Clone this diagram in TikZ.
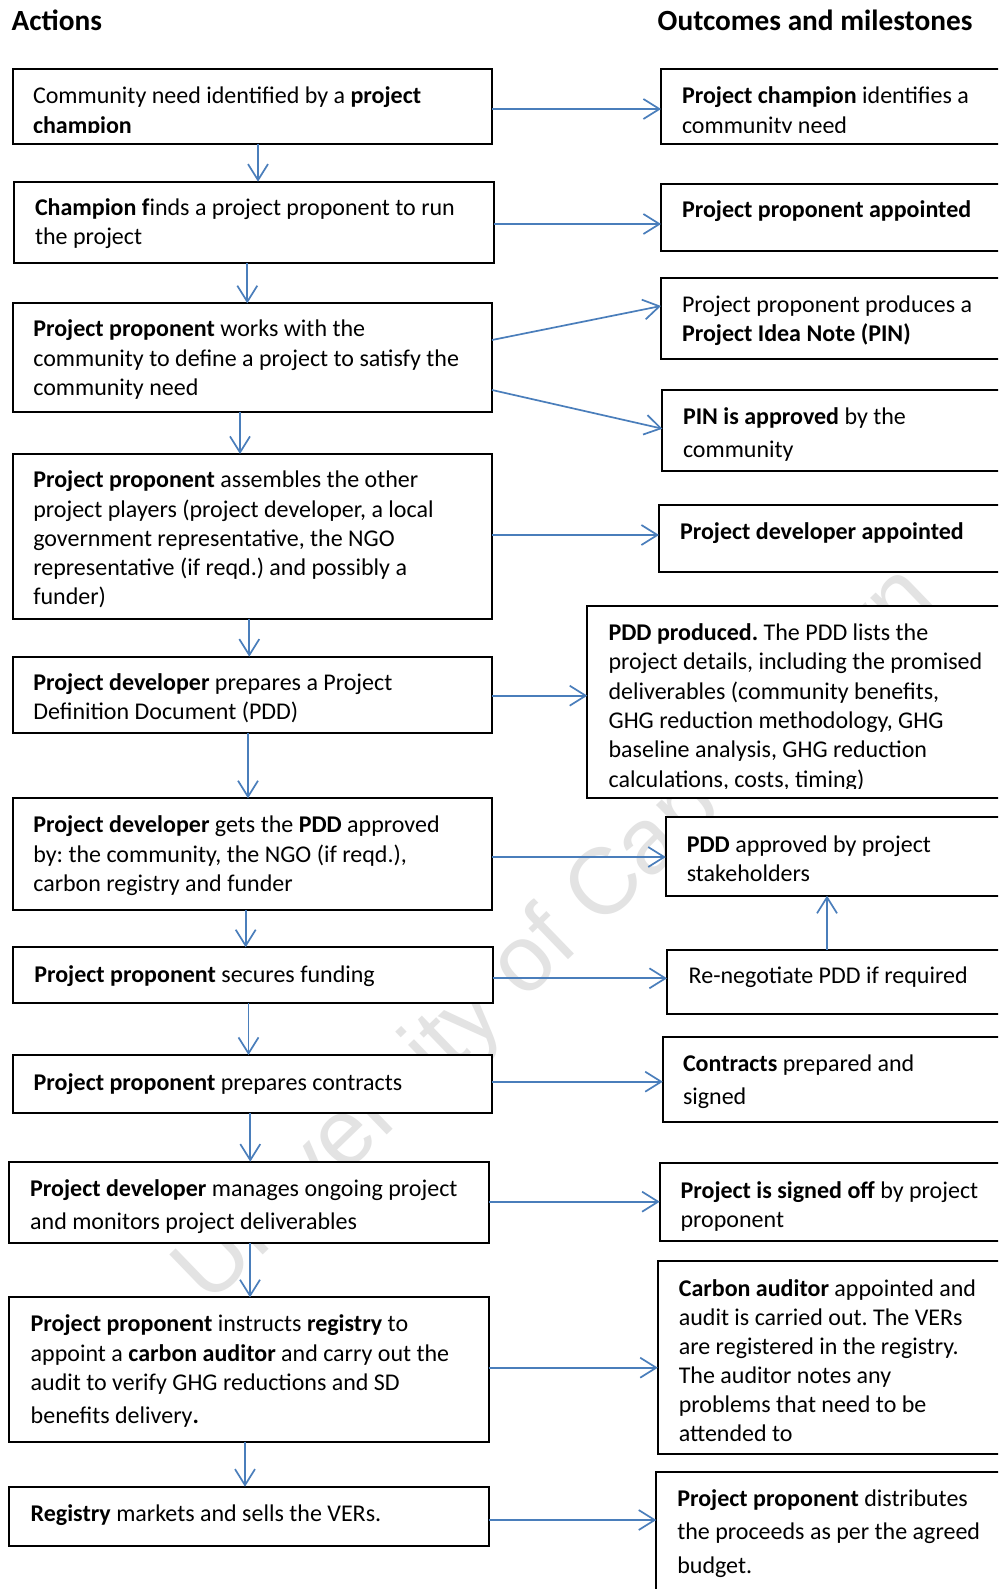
\documentclass[tikz,border=0pt]{standalone}
\usepackage{fontspec}
\setmainfont{Carlito}
\newfontfamily\headfont{Carlito}
\newfontfamily\wmfont{Liberation Sans}
\usetikzlibrary{arrows.meta}
\definecolor{arrblue}{RGB}{74,126,187}
\frenchspacing
\tikzset{
  box/.style={draw=black, line width=2pt, fill=white, inner sep=0pt, outer sep=0pt, anchor=north west},
  txt/.style={anchor=base west, inner sep=0pt, outer sep=0pt, text width=455pt, align=flush left, yshift=-1.2pt, font=\fontsize{24pt}{29.3pt}\selectfont},
  txtw/.style={txt, font=\fontsize{24pt}{33.4pt}\selectfont},
  rtxt/.style={txt, text width=318pt},
  rtxtw/.style={txtw, text width=318pt},
  head/.style={anchor=base west, inner sep=0pt, yshift=-1pt, font=\headfont\bfseries\fontsize{29.3pt}{35pt}\selectfont},
  arr/.style={draw=arrblue, line width=1.7pt, -{Straight Barb[length=16pt,width=20pt]}}
}
\newcommand\harr[3]{\coordinate (tmp) at ([yshift=#3]#1.east); \draw[arr] (tmp) -- (tmp -| #2.west);}
\newcommand\varr[3]{\coordinate (tmp) at ([xshift=#3]#1.south); \draw[arr] (tmp) -- (tmp |- #2.north);}
\begin{document}
\begin{tikzpicture}[x=1pt,y=-1pt]
\useasboundingbox (0,0) rectangle (998,1589);
\clip (0,0) rectangle (998,1589);
\fill[white] (0,0) rectangle (998,1589);
% watermark
\node[text=black!11, font=\wmfont\fontsize{94pt}{94pt}\selectfont, rotate=44, inner sep=0pt] (wm) at (557,937) {University of Cape Town};
% headings
\node[head] (hA) at (11.5,29.3) {Actions};
\node[head] (hO) at (657.5,29.3) {Outcomes and milestones};
% left boxes
\node[box, minimum width=479.3pt, minimum height=74.4pt] (L1) at (12.7,69.3) {};
\node[box, minimum width=480pt, minimum height=81.3pt] (L2) at (14,181.7) {};
\node[box, minimum width=479.3pt, minimum height=108.4pt] (L3) at (12.7,303.3) {};
\node[box, minimum width=479.3pt, minimum height=164.7pt] (L4) at (12.7,454) {};
\node[box, minimum width=479.3pt, minimum height=76pt] (L5) at (12.7,656.7) {};
\node[box, minimum width=479.3pt, minimum height=111.7pt] (L6) at (12.7,798.3) {};
\node[box, minimum width=479.4pt, minimum height=56pt] (L7) at (13.3,947.3) {};
\node[box, minimum width=479.2pt, minimum height=57.7pt] (L8) at (12.6,1055) {};
\node[box, minimum width=480.2pt, minimum height=81.6pt] (L9) at (8.8,1161.7) {};
\node[box, minimum width=479.4pt, minimum height=144.4pt] (L10) at (9.3,1297.3) {};
\node[box, minimum width=479.4pt, minimum height=59.3pt] (L11) at (9.3,1486.7) {};
% right boxes
\node[box, minimum width=351pt, minimum height=74.4pt] (R1) at (661,69.3) {};
\node[box, minimum width=351pt, minimum height=67pt] (R2) at (661,183.7) {};
\node[box, minimum width=351pt, minimum height=80.7pt] (R3) at (661,278.3) {};
\node[box, minimum width=349.6pt, minimum height=81.3pt] (R4) at (662.4,390) {};
\node[box, minimum width=353pt, minimum height=66.4pt] (R5) at (659,505.3) {};
\node[box, minimum width=424.7pt, minimum height=192.3pt] (R6) at (587.3,606) {};
\node[box, minimum width=346.2pt, minimum height=78.4pt] (R7) at (665.8,817.3) {};
\node[box, minimum width=345pt, minimum height=64pt] (R8) at (667,950) {};
\node[box, minimum width=349.2pt, minimum height=84.8pt] (R9) at (662.8,1037) {};
\node[box, minimum width=352.3pt, minimum height=77.6pt] (R10) at (659.7,1163.4) {};
\node[box, minimum width=354.2pt, minimum height=193.3pt] (R11) at (657.8,1261) {};
\node[box, minimum width=355.7pt, minimum height=140pt] (R12) at (656.3,1471.7) {};
% left texts
\begin{scope}
\clip (20,72) rectangle (480,133);
\node[txt] (L1t) at (33,102.7) {Community need identified by a \textbf{project}\\\textbf{champion}};
\end{scope}
\node[txt] (L2t) at (35,214) {\textbf{Champion f}inds a project proponent to run\\the project};
\node[txt] (L3t) at (33.3,335.7) {\textbf{Project proponent} works with the\\community to define a project to satisfy the\\community need};
\node[txt, font=\fontsize{24pt}{29.2pt}\selectfont] (L4t) at (33.3,486.7) {\textbf{Project proponent} assembles the other\\project players (project developer, a local\\government representative, the NGO\\representative (if reqd.) and possibly a\\funder)};
\node[txt] (L5t) at (33.3,689.3) {\textbf{Project developer} prepares a Project\\Definition Document (PDD)};
\node[txt] (L6t) at (33.3,831.7) {\textbf{Project developer} gets the \textbf{PDD} approved\\by: the community, the NGO (if reqd.),\\carbon registry and funder};
\node[txt] (L7t) at (34.3,981) {\textbf{Project proponent} secures funding};
\node[txt] (L8t) at (33.7,1089.3) {\textbf{Project proponent} prepares contracts};
\node[txtw] (L9t) at (30.2,1195) {\textbf{Project developer} manages ongoing project\\and monitors project deliverables};
\node[txt] (L10t) at (30.7,1330.7) {\textbf{Project proponent} instructs \textbf{registry} to\\appoint a \textbf{carbon auditor} and carry out the\\audit to verify GHG reductions and SD\\[4pt]benefits delivery\textbf{.}};
\node[txt] (L11t) at (30.7,1520) {\textbf{Registry} markets and sells the VERs.};
% right texts
\begin{scope}
\clip (668,72) rectangle (998,133);
\node[rtxt] (R1t) at (682,102.7) {\textbf{Project champion} identifies a\\community need};
\end{scope}
\node[rtxt] (R2t) at (682,216) {\textbf{Project proponent appointed}};
\node[rtxt] (R3t) at (682,311) {Project proponent produces a\\\textbf{Project Idea Note (PIN)}};
\node[rtxtw] (R4t) at (683,423) {\textbf{PIN is approved} by the\\community};
\node[rtxt] (R5t) at (680,538) {\textbf{Project developer appointed}};
\begin{scope}
\clip (595,610) rectangle (998,788);
\node[txt, text width=390pt] (R6t) at (608.6,639.3) {\textbf{PDD produced.} The PDD lists the\\project details, including the promised\\deliverables (community benefits,\\GHG reduction methodology, GHG\\baseline analysis, GHG reduction\\calculations, costs, timing)};
\end{scope}
\node[rtxt] (R7t) at (686.8,851) {\textbf{PDD} approved by project\\stakeholders};
\node[rtxt] (R8t) at (688.7,982.7) {Re-negotiate PDD if required};
\node[rtxtw] (R9t) at (683,1070) {\textbf{Contracts} prepared and\\signed};
\node[rtxt] (R10t) at (680.6,1197) {\textbf{Project is signed off} by project\\proponent};
\node[rtxt, font=\fontsize{24pt}{29pt}\selectfont] (R11t) at (678.8,1295) {\textbf{Carbon auditor} appointed and\\audit is carried out. The VERs\\are registered in the registry.\\The auditor notes any\\problems that need to be\\attended to};
\node[rtxtw] (R12t) at (677.3,1505) {\textbf{Project proponent} distributes\\the proceeds as per the agreed\\budget.};
% vertical arrows
\varr{L1}{L2}{5.65pt}
\varr{L2}{L3}{-6.7pt}
\varr{L3}{L4}{-12.35pt}
\varr{L4}{L5}{-3.05pt}
\varr{L5}{L6}{-4.35pt}
\varr{L6}{L7}{-6.65pt}
\varr{L7}{L8}{-4.5pt}
\varr{L8}{L9}{-1.9pt}
\varr{L9}{L10}{1.1pt}
\varr{L10}{L11}{-4pt}
% horizontal arrows
\harr{L1}{R1}{-2.5pt}
\harr{L2}{R2}{-1.65pt}
\draw[arr] ([yshift=17.5pt]L3.east) -- ([yshift=12.65pt]R3.west);
\draw[arr] ([yshift=-32.5pt]L3.east) -- ([yshift=1.95pt]R4.west);
\harr{L4}{R5}{1.35pt}
\harr{L5}{R6}{-1pt}
\harr{L6}{R7}{-2.85pt}
\harr{L7}{R8}{-3pt}
\harr{L8}{R9}{2.15pt}
\harr{L9}{R10}{0.8pt}
\harr{L10}{R11}{1.8pt}
\harr{L11}{R12}{-3.65pt}
% up arrow
\coordinate (tmp) at ([xshift=-12.5pt]R8.north);
\draw[arr] (tmp) -- (tmp |- R7.south);
\end{tikzpicture}
\end{document}
